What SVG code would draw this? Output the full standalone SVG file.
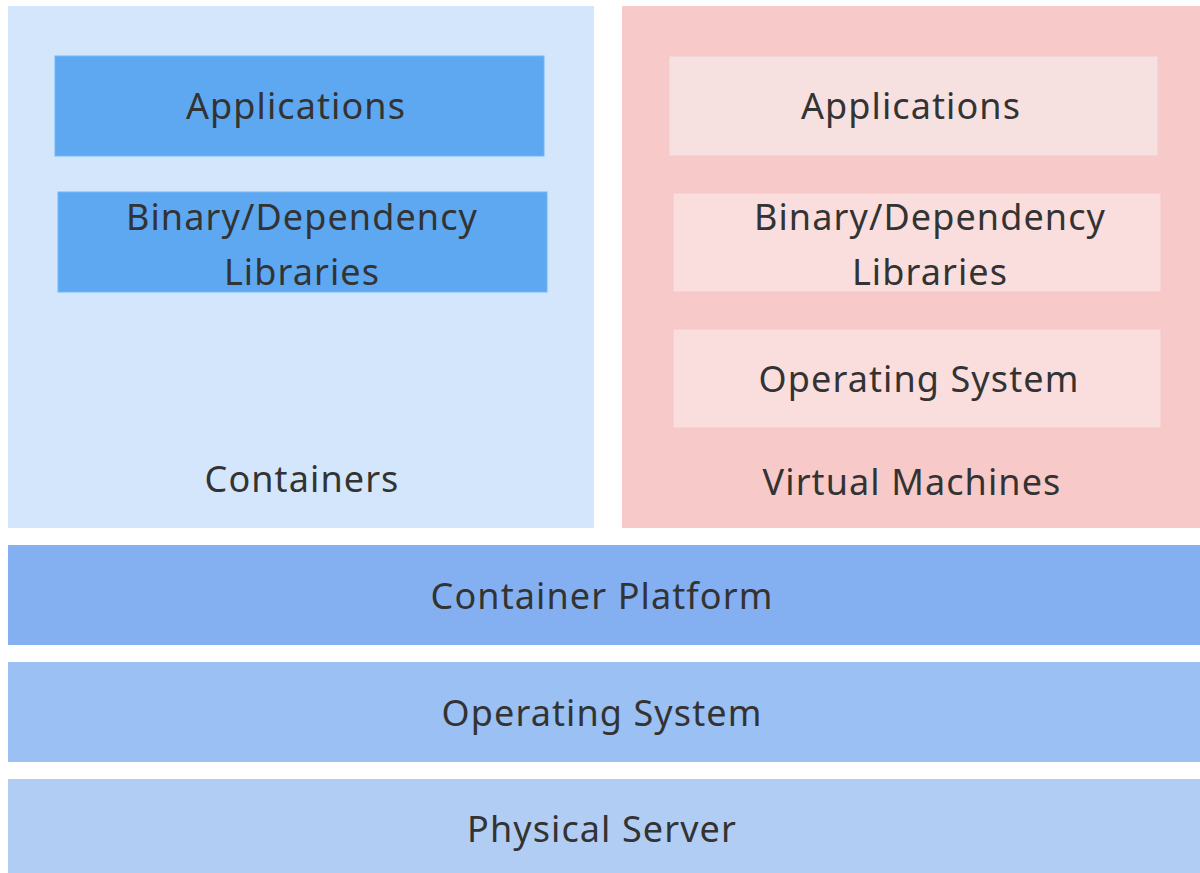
<svg xmlns="http://www.w3.org/2000/svg" width="1200" height="873" viewBox="0 0 1200 873">
<style>
text{font-family:"Noto Sans","Liberation Sans",sans-serif;font-size:36px;fill:#333333;text-anchor:middle;letter-spacing:1.1px}
.blue{fill:#5ea8f2;stroke:#74b5f4;stroke-width:1}
.pinkA{fill:#f6e0e0;stroke:#f4cccc;stroke-width:1}
.pinkB{fill:#fadddd;stroke:#f6c8c8;stroke-width:1}
</style>
<rect width="1200" height="873" fill="#ffffff"/>
<g id="containers">
<rect x="8" y="6" width="586" height="522" fill="#d3e6fb"/>
<text x="302" y="492">Containers</text>
</g>
<g id="c-apps">
<rect class="blue" x="55" y="56" width="489" height="100"/>
<text x="296" y="119">Applications</text>
</g>
<g id="c-libs">
<rect class="blue" x="58" y="192" width="489" height="100"/>
<text x="302" y="230">Binary/Dependency</text>
<text x="302" y="285">Libraries</text>
</g>
<g id="vms">
<rect x="622" y="6" width="578" height="522" fill="#f7c9c9"/>
<text x="912" y="495">Virtual Machines</text>
</g>
<g id="vm-apps">
<rect class="pinkA" x="669" y="56" width="489" height="100"/>
<text x="911" y="119">Applications</text>
</g>
<g id="vm-libs">
<rect class="pinkB" x="673" y="193" width="488" height="99"/>
<text x="930" y="230">Binary/Dependency</text>
<text x="930" y="285">Libraries</text>
</g>
<g id="vm-os">
<rect class="pinkB" x="673" y="329" width="488" height="99"/>
<text x="919" y="392">Operating System</text>
</g>
<g id="container-platform">
<rect x="8" y="545" width="1192" height="100" fill="#84b0f2"/>
<text x="602" y="609">Container Platform</text>
</g>
<g id="host-os">
<rect x="8" y="662" width="1192" height="100" fill="#9ac0f4"/>
<text x="602" y="726">Operating System</text>
</g>
<g id="physical-server">
<rect x="8" y="779" width="1192" height="94" fill="#b2cdf4"/>
<text x="602" y="842">Physical Server</text>
</g>
<g id="connectors"></g>
</svg>
